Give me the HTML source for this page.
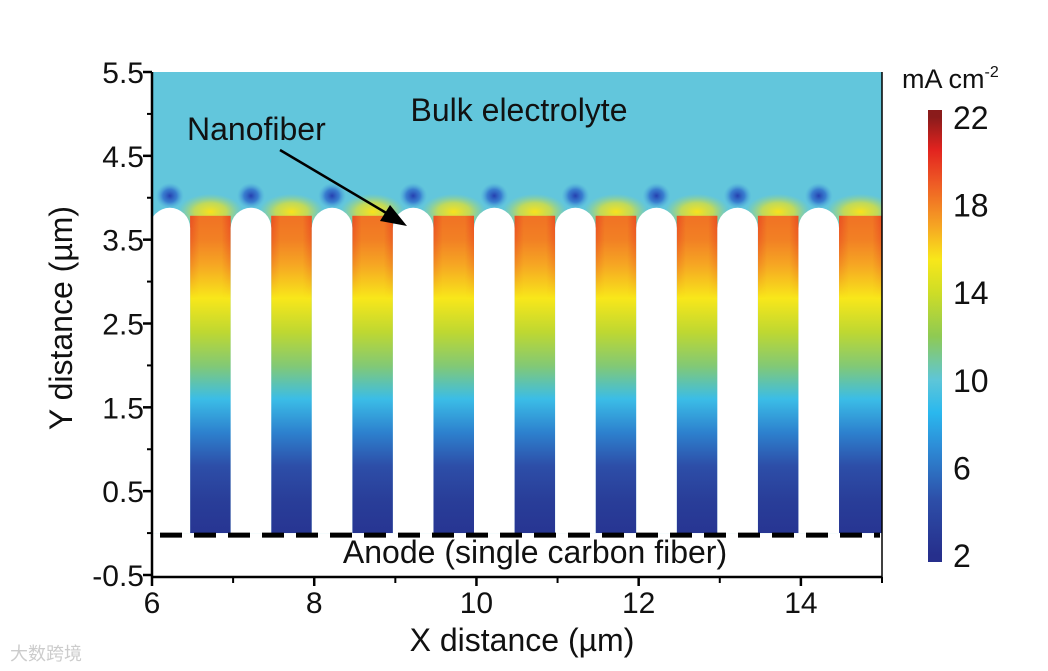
<!DOCTYPE html>
<html><head><meta charset="utf-8"><style>
html,body{margin:0;padding:0;background:#fff;}
svg{display:block;font-family:"Liberation Sans","Noto Sans CJK SC",sans-serif;}
</style></head><body>
<svg id="chart" width="1048" height="671" viewBox="0 0 1048 671">
<defs id="defs"></defs>
<g id="plot"></g>
<g id="axes"></g>
<g id="cbar"></g>
</svg>
<script>
const fiberCenters=[6.22,7.22,8.22,9.22,10.22,11.22,12.22,13.22,14.22];
const fiberWidth=0.5;
const fiberTop=3.88;
const depthLevels=[3.88,3.5,3.2,2.8,2.4,2.0,1.6,1.2,0.8,0.4,0.0];
const channelValues=[18.5,18,17,15.5,13.5,11.5,9,6.5,4.5,3.2,2.5];
const xTicks=[6,8,10,12,14];
const xMinor=[7,9,11,13,15];
const yTicks=[5.5,4.5,3.5,2.5,1.5,0.5,-0.5];
const yMinor=[5,4,3,2,1,0];
const cbTicks=[22,18,14,10,6,2];

const NS="http://www.w3.org/2000/svg";
const X0=152,X1=882,Y0=72,Y1=575;
const xs=v=>X0+(v-6)/9*(X1-X0);
const ys=v=>Y1-(v+0.5)/6*(Y1-Y0);
const cbY=v=>555-(v-2)/20*(555-117);
const cmapStops=[[2,'#262f8c'],[4.5,'#2d4ea8'],[7,'#2d8ed8'],[8.5,'#2ab8ee'],[10,'#5ec6d8'],[12,'#8fca52'],[14,'#cfdd26'],[15.5,'#f8e71a'],[17,'#f6a623'],[19,'#ee5a25'],[20.5,'#e2231f'],[22,'#8a1b1b']];
function hex(c){return [parseInt(c.slice(1,3),16),parseInt(c.slice(3,5),16),parseInt(c.slice(5,7),16)];}
function cmap(v){
  if(v<=cmapStops[0][0])return cmapStops[0][1];
  for(let i=1;i<cmapStops.length;i++){
    if(v<=cmapStops[i][0]){const a=cmapStops[i-1],b=cmapStops[i];const t=(v-a[0])/(b[0]-a[0]);
      const ca=hex(a[1]),cb=hex(b[1]);return 'rgb('+ca.map((x,k)=>Math.round(x+(cb[k]-x)*t)).join(',')+')';}
  }
  return cmapStops[cmapStops.length-1][1];
}
function mk(tag,attrs,parent){const e=document.createElementNS(NS,tag);for(const k in attrs)e.setAttribute(k,attrs[k]);parent.appendChild(e);return e;}
const defs=document.getElementById('defs'),plot=document.getElementById('plot'),axes=document.getElementById('axes'),cbar=document.getElementById('cbar');

const cg=mk('linearGradient',{id:'chan',x1:0,y1:ys(fiberTop),x2:0,y2:ys(0),gradientUnits:'userSpaceOnUse'},defs);
depthLevels.forEach((d,i)=>{mk('stop',{offset:((fiberTop-d)/fiberTop).toFixed(3),'stop-color':cmap(channelValues[i])},cg);});
const eg=mk('linearGradient',{id:'edge',x1:0,x2:1,y1:0,y2:0},defs);
[[0,'#e53222',0.6],[0.22,'#e53222',0],[0.78,'#e53222',0],[1,'#e53222',0.6]].forEach(s=>mk('stop',{offset:s[0],'stop-color':s[1],'stop-opacity':s[2]},eg));
const eg2=mk('linearGradient',{id:'edgefade',x1:0,y1:ys(fiberTop),x2:0,y2:ys(2.8),gradientUnits:'userSpaceOnUse'},defs);
mk('stop',{offset:0,'stop-color':'#fff','stop-opacity':1},eg2);mk('stop',{offset:1,'stop-color':'#fff','stop-opacity':0},eg2);
const m=mk('mask',{id:'edgemask'},defs);mk('rect',{x:X0,y:ys(fiberTop),width:X1-X0,height:ys(2.8)-ys(fiberTop),fill:'url(#edgefade)'},m);
const glow=mk('radialGradient',{id:'glow'},defs);
[[0,'#f9e21c',1],[0.5,'#dfe030',0.75],[1,'#a0d870',0]].forEach(s=>mk('stop',{offset:s[0],'stop-color':s[1],'stop-opacity':s[2]},glow));
const spot=mk('radialGradient',{id:'spot'},defs);
[[0,'#2540b0',1],[0.5,'#2f6ccc',0.8],[1,'#4aa6dd',0]].forEach(s=>mk('stop',{offset:s[0],'stop-color':s[1],'stop-opacity':s[2]},spot));
const cp=mk('clipPath',{id:'pclip'},defs);mk('rect',{x:X0,y:Y0,width:X1-X0,height:Y1-Y0},cp);

const pg=mk('g',{'clip-path':'url(#pclip)'},plot);
const bg=mk('rect',{x:X0,y:Y0,width:X1-X0,height:Y1-Y0,fill:'#62c6dc'},pg);


fiberCenters.forEach((c,i)=>{
  const l=c+fiberWidth/2,r=(i<fiberCenters.length-1?fiberCenters[i+1]-fiberWidth/2:15);
  const g=mk('ellipse',{cx:xs((l+r)/2),cy:ys(fiberTop)+4,rx:(xs(r)-xs(l))*0.8,ry:18,fill:'url(#glow)'},pg);
  
  
});
fiberCenters.forEach((c,i)=>{
  const l=c+fiberWidth/2,r=(i<fiberCenters.length-1?fiberCenters[i+1]-fiberWidth/2:15);
  const ch=mk('rect',{x:xs(l),y:ys(fiberTop)+8,width:xs(r)-xs(l),height:ys(0)-ys(fiberTop)-8,fill:'url(#chan)'},pg);
  
  
  mk('rect',{x:xs(l),y:ys(fiberTop)+8,width:xs(r)-xs(l),height:ys(2.8)-ys(fiberTop),fill:'url(#edge)',mask:'url(#edgemask)'},pg);
});
fiberCenters.forEach(c=>{
  const sp=mk('ellipse',{cx:xs(c),cy:ys(fiberTop)-12,rx:14,ry:13,fill:'url(#spot)'},pg);
  
  
});
fiberCenters.forEach(c=>{
  const rad=(xs(c+fiberWidth/2)-xs(c-fiberWidth/2))/2,top=ys(fiberTop);
  const p=mk('path',{d:`M${xs(c)-rad},${ys(0)} L${xs(c)-rad},${top+rad} A${rad},${rad} 0 0 1 ${xs(c)+rad},${top+rad} L${xs(c)+rad},${ys(0)} Z`,fill:'#fff'},pg);
  
  
});
mk('rect',{x:X0,y:ys(0),width:X1-X0,height:Y1-ys(0)+4,fill:'#fff'},pg);
const anode=mk('line',{x1:X0+8,x2:X1-2,y1:ys(0)+2,y2:ys(0)+2,stroke:'#000','stroke-width':5,'stroke-dasharray':'22,12'},plot);



function txt(x,y,s,attrs,parent,name){const t=mk('text',Object.assign({x:x,y:y,fill:'#111'},attrs),parent);t.textContent=s;return t;}
txt(519,121,'Bulk electrolyte',{'font-size':32,'text-anchor':'middle'},plot,'bulk-electrolyte-label');
txt(187,140,'Nanofiber',{'font-size':32},plot,'nanofiber-label');
txt(535,563,'Anode (single carbon fiber)',{'font-size':32,'text-anchor':'middle'},plot,'anode-label');
const ar=mk('line',{x1:280,y1:150,x2:393,y2:217,stroke:'#000','stroke-width':2.5},plot);


mk('polygon',{points:'407,226 380,221 390,205',fill:'#000'},plot);

mk('line',{x1:X0,y1:Y0,x2:X0,y2:Y1+2,stroke:'#000','stroke-width':2.5},axes);
mk('line',{x1:X0,y1:Y1+2,x2:X1,y2:Y1+2,stroke:'#000','stroke-width':2.5},axes);
mk('line',{x1:X1,y1:Y0,x2:X1,y2:Y1+2,stroke:'#000','stroke-width':1.5},axes);
yTicks.forEach(v=>{mk('line',{x1:X0-9,x2:X0,y1:ys(v),y2:ys(v),stroke:'#000','stroke-width':2.5},axes);
  txt(X0-8,ys(v)+11,String(v),{'font-size':30,'text-anchor':'end'},axes,'y-tick-label');});
yMinor.forEach(v=>mk('line',{x1:X0-5,x2:X0,y1:ys(v),y2:ys(v),stroke:'#000','stroke-width':2},axes));
xTicks.forEach(v=>{mk('line',{x1:xs(v),x2:xs(v),y1:Y1+2,y2:Y1+11,stroke:'#000','stroke-width':2.5},axes);
  txt(xs(v),Y1+38,String(v),{'font-size':30,'text-anchor':'middle'},axes,'x-tick-label');});
xMinor.forEach(v=>mk('line',{x1:xs(v),x2:xs(v),y1:Y1+2,y2:Y1+8,stroke:'#000','stroke-width':2},axes));
txt(522,651,'X distance (µm)',{'font-size':32,'text-anchor':'middle'},axes,'x-axis-title');
txt(0,0,'Y distance (µm)',{'font-size':32,'text-anchor':'middle',transform:'translate(72,318) rotate(-90)'},axes,'y-axis-title');

const cbg=mk('linearGradient',{id:'cbgrad',x1:0,y1:cbY(2),x2:0,y2:cbY(22),gradientUnits:'userSpaceOnUse'},defs);
cmapStops.forEach(s=>mk('stop',{offset:((s[0]-2)/20).toFixed(3),'stop-color':s[1]},cbg));
const cb=mk('rect',{x:928,y:cbY(22)-7,width:14,height:cbY(2)-cbY(22)+14,fill:'url(#cbgrad)'},cbar);


cbTicks.forEach(v=>txt(953,cbY(v)+12,String(v),{'font-size':32},cbar,'colorbar-tick-label'));
const u=txt(902,88,'mA cm',{'font-size':27},cbar,'colorbar-unit');
const sup=mk('tspan',{'font-size':16,dy:-11},u);sup.textContent='-2';
txt(10,660,'大数跨境',{'font-size':18,fill:'#ccc'},axes,'watermark');
</script>
</body></html>
